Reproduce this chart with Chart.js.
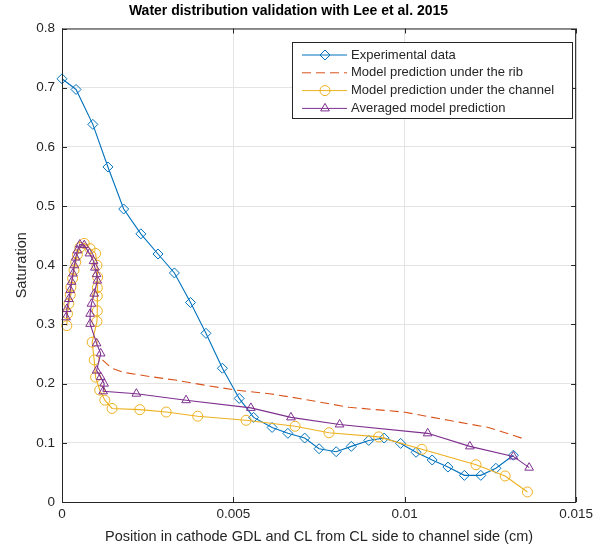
<!DOCTYPE html>
<html>
<head>
<meta charset="utf-8">
<title>Water distribution validation</title>
<script src="https://cdn.jsdelivr.net/npm/chart.js@4.4.1/dist/chart.umd.min.js"></script>
<style>
  html, body { margin: 0; padding: 0; background: #fff; }
  canvas { display: block; }
</style>
</head>
<body>
<canvas id="chart" width="597" height="550"></canvas>
<script>
// positions are in cm, saturation is dimensionless
const expX = [0, 0.00041, 0.0009, 0.00134, 0.0018, 0.0023, 0.0028, 0.00328, 0.00375, 0.0042, 0.00468,
  0.00517, 0.00559, 0.00613, 0.00659, 0.00708, 0.0075, 0.008, 0.00844, 0.00895, 0.0094, 0.00988,
  0.01033, 0.0108, 0.01126, 0.01174, 0.01222, 0.01266, 0.01317]
const expY = [0.715, 0.697, 0.638, 0.566, 0.495, 0.453, 0.419, 0.387, 0.337, 0.285, 0.226,
  0.175, 0.143, 0.126, 0.116, 0.108, 0.090, 0.085, 0.094, 0.104, 0.108, 0.099,
  0.084, 0.071, 0.059, 0.045, 0.045, 0.057, 0.079]

const ribX = [0.00118, 0.00145, 0.0018, 0.00256, 0.0033, 0.0042, 0.00509, 0.00605, 0.00692,
  0.00837, 0.00997, 0.01128, 0.01244, 0.01346]
const ribY = [0.240, 0.226, 0.219, 0.212, 0.206, 0.197, 0.189, 0.183, 0.175,
  0.160, 0.152, 0.138, 0.126, 0.107]

const chanX = [0.00014, 0.00016, 0.0002, 0.00024, 0.00026, 0.00031, 0.00035, 0.0004, 0.00045,
  0.00052, 0.00065, 0.00082, 0.00098, 0.00102, 0.00104, 0.00103, 0.00103, 0.00103, 0.00102,
  0.00088, 0.00094, 0.00098, 0.0011, 0.00125, 0.00146, 0.00227, 0.00304, 0.00396, 0.00537,
  0.0068, 0.00779, 0.00924, 0.0105, 0.01208, 0.01293, 0.01358]
const chanY = [0.298, 0.318, 0.335, 0.350, 0.363, 0.378, 0.392, 0.405, 0.418,
  0.430, 0.437, 0.428, 0.420, 0.400, 0.380, 0.362, 0.348, 0.323, 0.305,
  0.270, 0.240, 0.211, 0.189, 0.172, 0.158, 0.156, 0.152, 0.145, 0.138,
  0.128, 0.117, 0.110, 0.089, 0.063, 0.044, 0.017]

const avgX = [0.00012, 0.00014, 0.0002, 0.00024, 0.00028, 0.00032, 0.00036, 0.0004, 0.00045,
  0.00052, 0.00065, 0.0008, 0.00092, 0.00096, 0.00101, 0.00103, 0.00094, 0.00086, 0.00082,
  0.00082, 0.00101, 0.00113, 0.00101, 0.00113, 0.00123, 0.0012, 0.00217, 0.00362, 0.00551,
  0.00668, 0.0081, 0.01067, 0.0119, 0.01317, 0.01363]
const avgY = [0.312, 0.326, 0.343, 0.358, 0.372, 0.386, 0.400, 0.413, 0.425,
  0.435, 0.434, 0.420, 0.407, 0.396, 0.385, 0.374, 0.352, 0.335, 0.318,
  0.301, 0.268, 0.251, 0.222, 0.211, 0.200, 0.187, 0.183, 0.172, 0.159,
  0.143, 0.131, 0.116, 0.094, 0.077, 0.058]

const xTicks = [0, 0.005, 0.01, 0.015]
const yTicks = [0, 0.1, 0.2, 0.3, 0.4, 0.5, 0.6, 0.7, 0.8]

const FONT = "'Liberation Sans', Arial, Helvetica, sans-serif"
const INK = '#262626'

const pts = (xs, ys) => xs.map((x, i) => ({ x, y: ys[i] }))

function series(label, xs, ys, color, style, extra) {
  return Object.assign({
    label,
    data: pts(xs, ys),
    borderColor: color,
    borderWidth: 1.1,
    pointStyle: style,
    pointRadius: style ? 5 : 0,
    pointHoverRadius: style ? 5 : 0,
    pointBorderColor: color,
    pointBackgroundColor: 'rgba(0,0,0,0)',
    pointBorderWidth: 1,
    fill: false,
    tension: 0,
    clip: false,
  }, extra)
}

function drawMarker(ctx, style, x, y, r) {
  ctx.beginPath()
  if (style === 'circle') {
    ctx.arc(x, y, r, 0, Math.PI * 2)
  } else if (style === 'rectRot') {
    ctx.moveTo(x, y - r); ctx.lineTo(x + r, y); ctx.lineTo(x, y + r); ctx.lineTo(x - r, y)
    ctx.closePath()
  } else if (style === 'triangle') {
    ctx.moveTo(x, y - r); ctx.lineTo(x + r * 0.87, y + r * 0.5); ctx.lineTo(x - r * 0.87, y + r * 0.5)
    ctx.closePath()
  }
  ctx.stroke()
}

// box around the axes, inward ticks and the boxed legend
const frame = {
  id: 'frame',
  afterDraw(chart) {
    const { ctx, chartArea: a, scales } = chart
    ctx.save()
    ctx.strokeStyle = INK
    ctx.lineWidth = 1
    ctx.strokeRect(a.left + 0.5, a.top + 0.5, a.right - a.left - 1, a.bottom - a.top)
    ctx.beginPath()
    for (const v of xTicks) {
      const px = Math.round(scales.x.getPixelForValue(v)) + 0.5
      ctx.moveTo(px, a.bottom); ctx.lineTo(px, a.bottom - 5)
      ctx.moveTo(px, a.top); ctx.lineTo(px, a.top + 5)
    }
    for (const v of yTicks) {
      const py = Math.round(scales.y.getPixelForValue(v)) + 0.5
      ctx.moveTo(a.left, py); ctx.lineTo(a.left + 5, py)
      ctx.moveTo(a.right, py); ctx.lineTo(a.right - 5, py)
    }
    ctx.stroke()

    const box = { x: 292.5, y: 42.5, w: 280, h: 76 }
    ctx.fillStyle = '#fff'
    ctx.fillRect(box.x, box.y, box.w, box.h)
    ctx.strokeStyle = INK
    ctx.strokeRect(box.x, box.y, box.w, box.h)
    ctx.font = '13px ' + FONT
    ctx.textBaseline = 'middle'
    chart.data.datasets.forEach((ds, i) => {
      const y = 55 + i * 17.8
      ctx.strokeStyle = ds.borderColor
      ctx.lineWidth = 1
      ctx.setLineDash(ds.borderDash || [])
      ctx.beginPath(); ctx.moveTo(302, y); ctx.lineTo(347, y); ctx.stroke()
      ctx.setLineDash([])
      if (ds.pointRadius) drawMarker(ctx, ds.pointStyle, 325, y, 5)
      ctx.fillStyle = INK
      ctx.fillText(ds.label, 351, y)
    })
    ctx.restore()
  },
}

new Chart(document.getElementById('chart'), {
  type: 'line',
  data: {
    datasets: [
      series('Experimental data', expX, expY, '#0072BD', 'rectRot', { order: 3 }),
      series('Model prediction under the rib', ribX, ribY, '#D95319', false, { borderDash: [9, 5], order: 2 }),
      series('Model prediction under the channel', chanX, chanY, '#EDB120', 'circle', { order: 1 }),
      series('Averaged model prediction', avgX, avgY, '#7E2F8E', 'triangle', { order: 0 }),
    ],
  },
  options: {
    responsive: false,
    animation: false,
    events: [],
    layout: { padding: { left: 0, right: 20, top: 0, bottom: 0 } },
    scales: {
      x: {
        type: 'linear',
        min: 0,
        max: 0.015,
        afterFit: s => { s.height = 48 },
        afterBuildTicks: s => { s.ticks = xTicks.map(value => ({ value })) },
        grid: { color: '#e4e4e4', drawTicks: false },
        border: { display: false },
        ticks: {
          padding: 4,
          color: INK,
          font: { family: FONT, size: 13.5 },
          callback: v => String(+v.toFixed(3)),
        },
        title: {
          display: true,
          text: 'Position in cathode GDL and CL from CL side to channel side (cm)',
          color: INK,
          font: { family: FONT, size: 14.5 },
          padding: { top: 0, bottom: 4 },
        },
      },
      y: {
        type: 'linear',
        min: 0,
        max: 0.8,
        afterFit: s => { s.width = 62 },
        afterBuildTicks: s => { s.ticks = yTicks.map(value => ({ value })) },
        grid: { color: '#e4e4e4', drawTicks: false },
        border: { display: false },
        ticks: {
          padding: 7,
          color: INK,
          font: { family: FONT, size: 13.5 },
          callback: v => String(+v.toFixed(1)),
        },
        title: {
          display: true,
          text: 'Saturation',
          color: INK,
          font: { family: FONT, size: 14.5 },
          padding: { top: 13, bottom: 0 },
        },
      },
    },
    plugins: {
      legend: { display: false },
      tooltip: { enabled: false },
      title: {
        display: true,
        text: 'Water distribution validation with Lee et al. 2015',
        color: '#000',
        font: { family: FONT, size: 14, weight: 'bold' },
        padding: { top: 3, bottom: 8.7 },
      },
    },
  },
  plugins: [frame],
})
</script>
</body>
</html>
